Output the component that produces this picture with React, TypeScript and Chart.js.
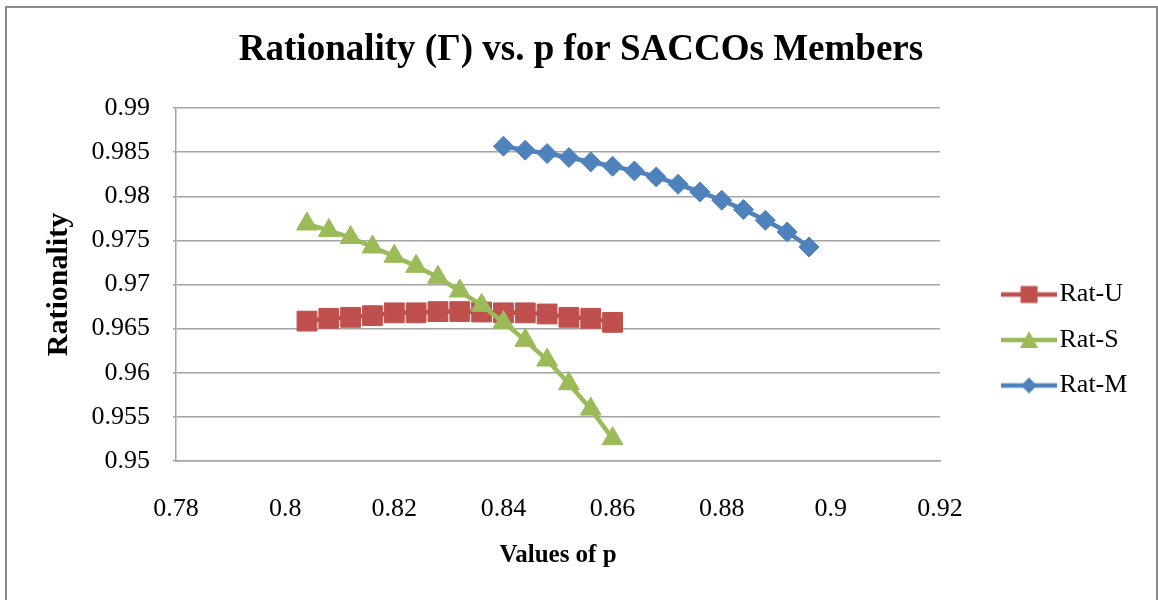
import React, { useEffect, useRef } from 'react';
import { Chart, registerables } from 'chart.js';

Chart.register(...registerables);

// ---- data ----
const pValuesUS = [0.804, 0.808, 0.812, 0.816, 0.82, 0.824, 0.828, 0.832, 0.836, 0.84, 0.844, 0.848, 0.852, 0.856, 0.86];
const pValuesM = [0.84, 0.844, 0.848, 0.852, 0.856, 0.86, 0.864, 0.868, 0.872, 0.876, 0.88, 0.884, 0.888, 0.892, 0.896];
const ratU = [0.96585, 0.96617, 0.96628, 0.96647, 0.96679, 0.96679, 0.96693, 0.96693, 0.96688, 0.96679, 0.96679, 0.96666, 0.96628, 0.96617, 0.96571];
const ratS = [0.97686, 0.97611, 0.97532, 0.97425, 0.9732, 0.97206, 0.97082, 0.96926, 0.96764, 0.96571, 0.96367, 0.96144, 0.95876, 0.95588, 0.95253];
const ratM = [0.98567, 0.98522, 0.98484, 0.98439, 0.98389, 0.9834, 0.98287, 0.98219, 0.98136, 0.98049, 0.97955, 0.97849, 0.97728, 0.97595, 0.97425];
const seriesNames = ['Rat-U', 'Rat-S', 'Rat-M'];
const xTickValues = [0.78, 0.8, 0.82, 0.84, 0.86, 0.88, 0.9, 0.92];
const xTickLabels = ['0.78', '0.8', '0.82', '0.84', '0.86', '0.88', '0.9', '0.92'];
const yTickValues = [0.95, 0.955, 0.96, 0.965, 0.97, 0.975, 0.98, 0.985, 0.99];
const yTickLabels = ['0.95', '0.955', '0.96', '0.965', '0.97', '0.975', '0.98', '0.985', '0.99'];
const chartTitle = 'Rationality (Γ) vs. p for SACCOs Members';
const xTitle = 'Values of p';
const yTitle = 'Rationality';

const COLORS = ['#C0504D', '#9BBB59', '#4F81BD'];
const FONT = "'Liberation Serif', 'Times New Roman', serif";

function lookup(values: number[], labels: string[], v: number): string {
  const i = values.findIndex((t) => Math.abs(t - v) < 1e-7);
  return i >= 0 ? labels[i] : '';
}

function makeIcon(color: string, shape: string): HTMLCanvasElement {
  const c = document.createElement('canvas');
  c.width = 56;
  c.height = 26;
  const g = c.getContext('2d')!;
  g.strokeStyle = color;
  g.lineWidth = 4.5;
  g.beginPath();
  g.moveTo(0, 13);
  g.lineTo(56, 13);
  g.stroke();
  g.fillStyle = color;
  g.beginPath();
  if (shape === 'rect') {
    g.rect(19.5, 4.5, 17, 17);
  } else if (shape === 'triangle') {
    g.moveTo(28, 4);
    g.lineTo(37, 21);
    g.lineTo(19, 21);
    g.closePath();
  } else {
    g.moveTo(28, 5);
    g.lineTo(36, 13);
    g.lineTo(28, 21);
    g.lineTo(20, 13);
    g.closePath();
  }
  g.fill();
  return c;
}

export default function App() {
  const canvasRef = useRef<HTMLCanvasElement | null>(null);

  useEffect(() => {
    const canvas = canvasRef.current;
    if (!canvas) return;
    Chart.defaults.font.family = FONT;
    Chart.defaults.color = '#000';

    const shapes = ['rect', 'triangle', 'rectRot'];
    const radii = [14, 12, 10];
    const icons = COLORS.map((c, i) => makeIcon(c, shapes[i]));
    const xs = [pValuesUS, pValuesUS, pValuesM];
    const ys = [ratU, ratS, ratM];
    const orders = [2, 1, 0];

    const datasets = seriesNames.map((name, i) => ({
      label: name,
      data: xs[i].map((x, k) => ({ x, y: ys[i][k] })),
      showLine: true,
      borderColor: COLORS[i],
      backgroundColor: COLORS[i],
      borderWidth: 4.5,
      tension: 0,
      pointStyle: shapes[i],
      pointRadius: radii[i],
      pointBorderWidth: 1,
      pointBackgroundColor: COLORS[i],
      pointBorderColor: COLORS[i],
      order: orders[i],
    }));

    const chart = new Chart(canvas, {
      type: 'scatter',
      data: { datasets },
      options: {
        animation: false,
        responsive: false,
        devicePixelRatio: 1,
        events: [],
        layout: { padding: { left: 17.6, right: 18.6, top: 0, bottom: 0 } },
        plugins: {
          tooltip: { enabled: false },
          title: {
            display: true,
            text: chartTitle,
            color: '#000',
            font: { family: FONT, size: 37, weight: 'bold' },
            padding: { top: 20.6, bottom: 35 },
          },
          legend: {
            display: true,
            position: 'right',
            align: 'center',
            labels: {
              usePointStyle: true,
              pointStyleWidth: 35,
              padding: 19.5,
              color: '#000',
              font: { family: FONT, size: 26 },
              generateLabels: (ch: any) => {
                const items = Chart.defaults.plugins.legend.labels.generateLabels(ch);
                items.sort((a: any, b: any) => a.datasetIndex - b.datasetIndex);
                return items.map((it: any) => ({ ...it, pointStyle: icons[it.datasetIndex], fontColor: '#000' }));
              },
            },
          },
        },
        scales: {
          x: {
            type: 'linear',
            position: 'bottom',
            min: 0.78,
            max: 0.92,
            afterFit: (s: any) => {
              s.height = 211;
            },
            afterBuildTicks: (s: any) => {
              s.ticks = xTickValues.map((v) => ({ value: v }));
            },
            ticks: {
              stepSize: 0.02,
              padding: 25,
              maxRotation: 0,
              autoSkip: false,
              color: '#000',
              font: { family: FONT, size: 26 },
              callback: (v: any) => lookup(xTickValues, xTickLabels, Number(v)),
            },
            grid: { display: false },
            border: { display: true, color: '#a3a3a3', width: 1.5 },
            title: {
              display: true,
              text: xTitle,
              color: '#000',
              font: { family: FONT, size: 25, weight: 'bold' },
              padding: { top: 20, bottom: 101.4 },
            },
          },
          y: {
            type: 'linear',
            position: 'left',
            min: 0.95,
            max: 0.99,
            afterFit: (s: any) => {
              s.width = 151.4;
            },
            afterBuildTicks: (s: any) => {
              s.ticks = yTickValues.map((v) => ({ value: v }));
            },
            ticks: {
              stepSize: 0.005,
              padding: 23,
              color: '#000',
              font: { family: FONT, size: 26 },
              callback: (v: any) => lookup(yTickValues, yTickLabels, Number(v)),
            },
            grid: { color: '#a3a3a3', lineWidth: 1.5, drawTicks: true, tickLength: 3 },
            border: { display: true, color: '#a3a3a3', width: 1.5 },
            title: {
              display: true,
              text: yTitle,
              color: '#000',
              font: { family: FONT, size: 30, weight: 'bold' },
              padding: { top: 16.6, bottom: 0 },
            },
          },
          yr: {
            type: 'linear',
            position: 'right',
            display: true,
            afterFit: (s: any) => {
              s.width = 52;
            },
            grid: { display: false },
            border: { display: false },
            ticks: { display: false },
          },
        },
      } as any,
    });

    return () => {
      chart.destroy();
    };
  }, []);

  return (
    <div
      style={{
        position: 'absolute',
        left: 5,
        top: 6,
        width: 1153,
        height: 594,
        boxSizing: 'border-box',
        border: '2px solid #8a8a8a',
        borderBottom: 'none',
        overflow: 'hidden',
        background: '#fff',
      }}
    >
      <canvas ref={canvasRef} width={1149} height={664} style={{ display: 'block' }} />
    </div>
  );
}
